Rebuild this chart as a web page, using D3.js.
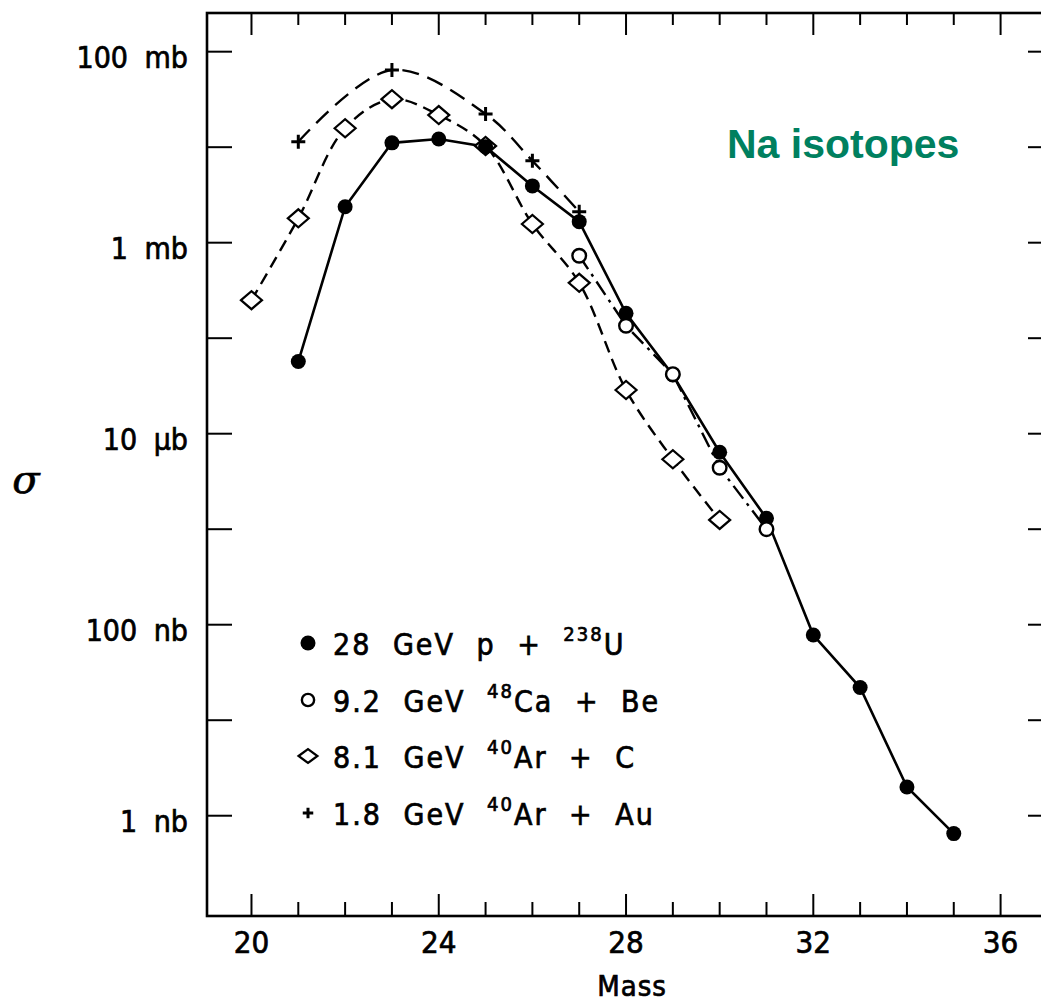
<!DOCTYPE html>
<html><head><meta charset="utf-8">
<script src="https://cdn.jsdelivr.net/npm/d3@7"></script>
<style>body{margin:0;background:#fff}svg{display:block}</style>
</head><body>
<svg id="c" width="1041" height="1004"></svg>
<script>
// ---- data (sigma in mb) ----
const massPU = [21,22,23,24,25,26,27,28,29,30,31,32,33,34,35];
const sigmaPU = [0.057,2.38,11.1,12.2,10.1,3.93,1.66,0.182,0.0412,0.0064,0.0013,7.8e-5,2.2e-5,2.0e-6,6.5e-7];
const massCaBe = [27,28,29,30,31];
const sigmaCaBe = [0.73,0.135,0.042,0.0044,0.001];
const massArC = [20,21,22,23,24,25,26,27,28,29,30];
const sigmaArC = [0.25,1.8,15.8,31.8,21.7,10.3,1.57,0.38,0.0287,0.0054,0.00125];
const massArAu = [21,23,25,26,27];
const sigmaArAu = [11.4,64.3,22.3,7.2,2.11];

const xTicks = [20,21,22,23,24,25,26,27,28,29,30,31,32,33,34,35,36];
const xMajor = [20,24,28,32,36];
const yTicks = [1e2,1e1,1,1e-1,1e-2,1e-3,1e-4,1e-5,1e-6];
const yLabelValues = [1e2,1,1e-2,1e-4,1e-6];
const yLabelNumbers = ["100","1","10","100","1"];
const yLabelUnits = ["mb","mb","µb","nb","nb"];
const legendMain = ["28 GeV p + ","9.2 GeV ","8.1 GeV ","1.8 GeV "];
const legendSup = ["238","48","40","40"];
const legendTail = ["U","Ca + Be","Ar + C","Ar + Au"];
const legendMarkers = ["filled","open","diamond","cross"];

const svg = d3.select("#c");
const x = d3.scaleLinear().domain([19.05, 36.97]).range([207, 1046]);
const y = d3.scaleLog().domain([Math.pow(10,-7.05), Math.pow(10,2.405)]).range([916, 13]);
const [xl, xr] = x.range();
const [yb, yt] = y.range();
const FONT = "'DejaVu Sans Condensed','DejaVu Sans',sans-serif";

// frame
svg.append("rect").attr("x", xl).attr("y", yt).attr("width", xr - xl).attr("height", yb - yt)
  .attr("fill","none").attr("stroke","#000").attr("stroke-width",2.6);

// x ticks (bottom and top)
const tg = svg.append("g").attr("stroke","#000").attr("stroke-width",2);
xTicks.forEach(m => {
  const major = xMajor.includes(m);
  tg.append("line").attr("x1",x(m)).attr("x2",x(m)).attr("y1",yb).attr("y2",yb-(major?22:14));
  tg.append("line").attr("x1",x(m)).attr("x2",x(m)).attr("y1",yt).attr("y2",yt+(major?22:12));
});
// y ticks left and right
yTicks.forEach(v => {
  tg.append("line").attr("x1",xl).attr("x2",xl+25).attr("y1",y(v)).attr("y2",y(v));
  tg.append("line").attr("x1",xr).attr("x2",xr-18).attr("y1",y(v)).attr("y2",y(v));
});

const thick = sel => sel.attr("stroke","#000").attr("stroke-width",0.7);

// x labels
svg.append("g").selectAll("text").data(xMajor).join("text")
  .attr("x", d => x(d)).attr("y", 953).attr("text-anchor","middle")
  .attr("font-family", FONT).attr("font-size", 31).call(thick).text(d => d);
svg.append("text").attr("x", 632).attr("y", 996).attr("text-anchor","middle")
  .attr("font-family", FONT).attr("font-size", 29).attr("letter-spacing",1).call(thick).text("Mass");

// y labels
yLabelValues.forEach((v,i) => {
  svg.append("text").attr("x", 188).attr("y", y(v)+16).attr("text-anchor","end")
    .attr("font-family", FONT).attr("font-size", 30).attr("word-spacing", 8).call(thick)
    .text(yLabelNumbers[i] + " " + yLabelUnits[i]);
});
// sigma axis title
svg.append("text").attr("x", 26).attr("y", 493).attr("text-anchor","middle")
  .attr("font-family","'DejaVu Serif',serif").attr("font-style","italic").attr("font-size", 40).call(thick).text("σ");

// lines
const lin = d3.line().x(d => x(d[0])).y(d => y(d[1]));
const smooth = d3.line().x(d => x(d[0])).y(d => y(d[1])).curve(d3.curveCatmullRom.alpha(0.5));
const zip = (a,b) => a.map((m,i) => [m, b[i]]);
const dPU = zip(massPU, sigmaPU), dCa = zip(massCaBe, sigmaCaBe), dArC = zip(massArC, sigmaArC), dAu = zip(massArAu, sigmaArAu);

svg.append("path").attr("d", smooth(dAu)).attr("fill","none").attr("stroke","#000").attr("stroke-width",2.4).attr("stroke-dasharray","17,9");
svg.append("path").attr("d", smooth(dArC)).attr("fill","none").attr("stroke","#000").attr("stroke-width",2.4).attr("stroke-dasharray","12,7");
svg.append("path").attr("d", lin(dCa)).attr("fill","none").attr("stroke","#000").attr("stroke-width",2.4).attr("stroke-dasharray","16,6,3,6");
svg.append("path").attr("d", lin(dPU)).attr("fill","none").attr("stroke","#000").attr("stroke-width",2.6);

// markers
function marker(g, type, cx, cy, s) {
  if (type === "filled") g.append("circle").attr("cx",cx).attr("cy",cy).attr("r",7.5*s).attr("fill","#000");
  else if (type === "open") g.append("circle").attr("cx",cx).attr("cy",cy).attr("r",6.8*s).attr("fill","#fff").attr("stroke","#000").attr("stroke-width",2.4);
  else if (type === "diamond") {
    const w = 10.5*s, h = (s<1?7:9);
    g.append("path").attr("d",`M${cx-w},${cy}L${cx},${cy-h}L${cx+w},${cy}L${cx},${cy+h}Z`)
      .attr("fill","#fff").attr("stroke","#000").attr("stroke-width",2.2);
  } else {
    const a = 7*s;
    g.append("path").attr("d",`M${cx-a},${cy}H${cx+a}M${cx},${cy-a}V${cy+a}`).attr("stroke","#000").attr("stroke-width",3).attr("fill","none");
  }
}
const mg = svg.append("g");
dArC.forEach(d => marker(mg,"diamond",x(d[0]),y(d[1]),1));
dAu.forEach(d => marker(mg,"cross",x(d[0]),y(d[1]),1));
dPU.forEach(d => marker(mg,"filled",x(d[0]),y(d[1]),1));
dCa.forEach(d => marker(mg,"open",x(d[0]),y(d[1]),1));

// legend
const legY = [643, 700, 756, 813];
legendMain.forEach((t,i) => {
  marker(svg, legendMarkers[i], 308, legY[i], legendMarkers[i]==="filled"?1:(legendMarkers[i]==="cross"?0.75:0.9));
  const tx = svg.append("text").attr("x", 333).attr("y", legY[i]+12)
    .attr("font-family", FONT).attr("font-size", 30).attr("letter-spacing", 2).attr("word-spacing", 11)
    .attr("xml:space","preserve").style("white-space","pre").call(thick);
  tx.append("tspan").text(t);
  tx.append("tspan").attr("font-size", 20).attr("dy", -14).text(legendSup[i]);
  tx.append("tspan").attr("dy", 14).text(legendTail[i]);
});

// annotation
svg.append("text").attr("x", 727).attr("y", 158)
  .attr("font-family","'Liberation Sans',Arial,sans-serif").attr("font-weight","bold").attr("font-size", 41)
  .attr("fill","#00805f").text("Na isotopes");
</script>
</body></html>
